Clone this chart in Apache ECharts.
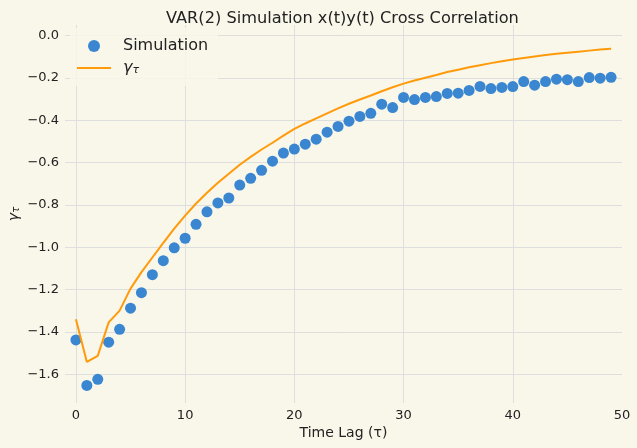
<!DOCTYPE html>
<html>
<head>
<meta charset="utf-8">
<script src="https://cdn.jsdelivr.net/npm/echarts@6/dist/echarts.min.js"></script>
<style>
  html, body { margin: 0; padding: 0; background: #f9f6ea; }
  #chart { width: 637px; height: 448px; }
</style>
</head>
<body>
<div id="chart"></div>
<script>
// lags and values
var lags = [0, 1, 2, 3, 4, 5, 6, 7, 8, 9, 10, 11, 12, 13, 14, 15, 16, 17, 18, 19,
  20, 21, 22, 23, 24, 25, 26, 27, 28, 29, 30, 31, 32, 33, 34, 35, 36, 37, 38, 39,
  40, 41, 42, 43, 44, 45, 46, 47, 48, 49];
var simulation = [-1.437, -1.652, -1.623, -1.448, -1.387, -1.287, -1.214, -1.129, -1.063, -1.002,
  -0.957, -0.891, -0.832, -0.790, -0.767, -0.706, -0.674, -0.636, -0.593, -0.555,
  -0.536, -0.513, -0.489, -0.456, -0.429, -0.404, -0.382, -0.367, -0.324, -0.340,
  -0.292, -0.302, -0.292, -0.288, -0.273, -0.272, -0.259, -0.240, -0.250, -0.245,
  -0.241, -0.217, -0.234, -0.217, -0.206, -0.208, -0.217, -0.198, -0.201, -0.197];
var theory = [-1.340, -1.541, -1.512, -1.354, -1.299, -1.195, -1.117, -1.048, -0.979, -0.912,
  -0.850, -0.793, -0.742, -0.695, -0.652, -0.610, -0.573, -0.538, -0.506, -0.472,
  -0.441, -0.415, -0.391, -0.367, -0.344, -0.322, -0.302, -0.283, -0.263, -0.244,
  -0.227, -0.212, -0.199, -0.186, -0.172, -0.161, -0.150, -0.140, -0.130, -0.121,
  -0.113, -0.106, -0.099, -0.092, -0.086, -0.081, -0.076, -0.071, -0.066, -0.062];
var xTicks = [0, 10, 20, 30, 40, 50];
var yTicks = [-1.6, -1.4, -1.2, -1.0, -0.8, -0.6, -0.4, -0.2, 0.0];

var font = 'DejaVu Sans';
var chart = echarts.init(document.getElementById('chart'));

var simPoints = lags.map(function (x, i) { return [x, simulation[i]]; });
var theoryPoints = lags.map(function (x, i) { return [x, theory[i]]; });

var option = {
  backgroundColor: '#f9f6ea',
  animation: false,
  title: {
    text: 'VAR(2) Simulation x(t)y(t) Cross Correlation',
    left: 161,
    top: 6,
    textStyle: { fontFamily: font, fontSize: 16.2, fontWeight: 'normal', color: '#222' }
  },
  grid: { left: 65, right: 15, top: 25, bottom: 45, containLabel: false, outerBoundsMode: 'none' },
  legend: {
    orient: 'vertical',
    left: 70,
    top: 28,
    padding: [10, 10, 10, 7],
    itemWidth: 34,
    itemHeight: 12,
    itemGap: 6,
    backgroundColor: 'rgba(249,246,234,0.85)',
    data: [
      { name: 'Simulation', icon: 'circle' },
      { name: 'gamma', icon: 'path://M0,0 L34,0 L34,2 L0,2 Z' }
    ],
    formatter: function (name) {
      return name === 'gamma' ? '{g|γ}{s|τ}' : name;
    },
    textStyle: {
      fontFamily: font, fontSize: 16, color: '#222', lineHeight: 16,
      padding: [0, 0, 0, 7],
      rich: {
        g: { fontFamily: font, fontSize: 16, fontStyle: 'italic', color: '#222', lineHeight: 16 },
        s: { fontFamily: font, fontSize: 11, fontStyle: 'italic', color: '#222', lineHeight: 10, verticalAlign: 'bottom' }
      }
    }
  },
  xAxis: {
    type: 'value',
    min: -1,
    max: 50,
    name: 'Time Lag (τ)',
    nameLocation: 'middle',
    nameGap: 23,
    nameMoveOverlap: false,
    nameTextStyle: { fontFamily: font, fontSize: 14, color: '#222' },
    axisLine: { show: false },
    axisTick: { show: false, customValues: xTicks },
    axisLabel: { customValues: xTicks, fontFamily: font, fontSize: 13, color: '#222', margin: 6 },
    splitLine: { show: true, showMaxLine: false, lineStyle: { color: '#dedede', width: 1 } }
  },
  yAxis: {
    type: 'value',
    min: -1.735,
    max: 0.05,
    name: '{g|γ}{s|τ}',
    nameLocation: 'middle',
    nameGap: 44,
    nameMoveOverlap: false,
    nameTextStyle: {
      rich: {
        g: { fontFamily: font, fontSize: 14, fontStyle: 'italic', color: '#222', lineHeight: 14 },
        s: { fontFamily: font, fontSize: 10, fontStyle: 'italic', color: '#222', lineHeight: 9, verticalAlign: 'bottom' }
      }
    },
    axisLine: { show: false },
    axisTick: { show: false, customValues: yTicks },
    axisLabel: {
      customValues: yTicks,
      fontFamily: font, fontSize: 13, color: '#222', margin: 6,
      formatter: function (v) { return v.toFixed(1).replace('-', '\u2212'); }
    },
    splitLine: { show: true, lineStyle: { color: '#dedede', width: 1 } }
  },
  series: [
    {
      name: 'Simulation',
      type: 'scatter',
      data: simPoints,
      symbol: 'circle',
      symbolSize: 11,
      itemStyle: { color: '#3a86d0', opacity: 1 }
    },
    {
      name: 'gamma',
      type: 'line',
      data: theoryPoints,
      symbol: 'none',
      lineStyle: { color: '#ff9a0a', width: 2 },
      itemStyle: { color: '#ff9a0a' }
    }
  ]
};

chart.setOption(option);
</script>
</body>
</html>
